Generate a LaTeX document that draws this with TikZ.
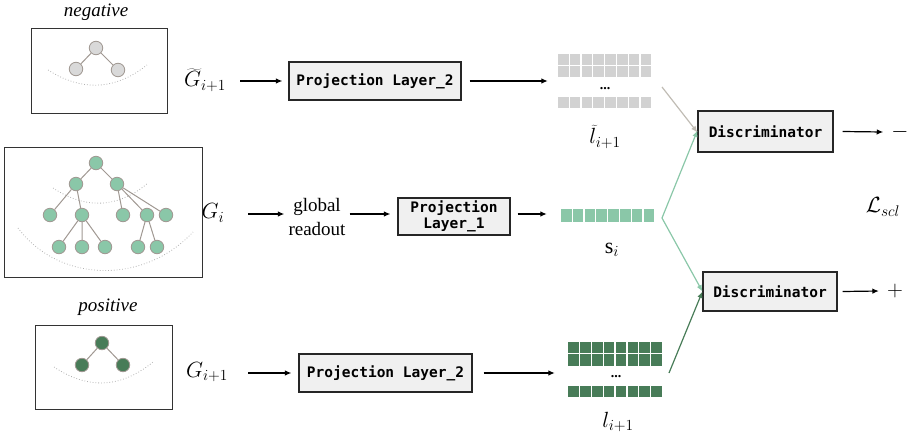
\RequirePackage{fix-cm}
\documentclass[tikz,border=0pt]{standalone}
\usepackage{fontspec}
\setmainfont{Liberation Serif}
\setmonofont{DejaVu Sans Mono}
\usetikzlibrary{arrows.meta}
\definecolor{lgreen}{RGB}{138,199,168}
\definecolor{dgreen}{RGB}{72,124,88}
\definecolor{ngray}{RGB}{217,217,217}
\definecolor{nborder}{RGB}{160,152,146}
\definecolor{cellgray}{RGB}{210,210,210}
\definecolor{boxfill}{RGB}{240,240,240}
\definecolor{lineg}{RGB}{192,188,180}
\begin{document}
\begin{tikzpicture}[x=1pt,y=-1pt,
  gbox/.style={draw=black!80,line width=1pt},
  gnode/.style={circle,draw=nborder,line width=0.8pt,minimum size=13.5pt,inner sep=0pt},
  gedge/.style={draw=nborder,line width=1pt},
  dotarc/.style={draw=black!30,dotted,line width=0.8pt},
  proj/.style={draw=black!85,fill=boxfill,line width=1.1pt,font=\ttfamily\bfseries\fontsize{14.5}{17}\selectfont,inner sep=0pt,align=center},
  arr/.style={-{Latex[length=6.5pt,width=5.5pt]},line width=1.2pt},
  lbl/.style={font=\fontsize{19}{22}\selectfont,inner sep=0pt},
  mlbl/.style={font=\fontsize{22}{26}\selectfont,inner sep=0pt},
  dots/.style={font=\bfseries\fontsize{14}{16}\selectfont,inner sep=0pt,anchor=base},
]
\useasboundingbox (0,0) rectangle (913,437);

% ---------- negative graph ----------
\node[lbl,font=\itshape\fontsize{19}{22}\selectfont] (neglbl) at (96,12) {negative};
\draw[gbox] (31,28) rectangle (167,113);
\draw[dotarc] (48,70) .. controls (81,91) and (114,91) .. (147,65);
\node[gnode,fill=ngray] (n1) at (96,48) {};
\node[gnode,fill=ngray] (n2) at (76,69) {};
\node[gnode,fill=ngray] (n3) at (118,70) {};
\draw[gedge] (n1) -- (n2) (n1) -- (n3);

% ---------- middle graph ----------
\draw[gbox] (4,147) rectangle (202,277);
\draw[dotarc] (53,188) .. controls (85,209) and (117,209) .. (148,183);
\draw[dotarc] (18,228) .. controls (60,284) and (145,284) .. (193,232);
\begin{scope}[every node/.style={gnode,fill=lgreen}]
\node (m0) at (96,163) {};
\node (m1) at (76,184) {};
\node (m2) at (117,184) {};
\node (m3) at (50,215) {};
\node (m4) at (82,215) {};
\node (m5) at (123,215) {};
\node (m6) at (147,215) {};
\node (m7) at (166,215) {};
\node (m8) at (59,247) {};
\node (m9) at (82,247) {};
\node (m10) at (105,247) {};
\node (m11) at (138,247) {};
\node (m12) at (157,247) {};
\end{scope}
\draw[gedge] (m0) -- (m1) (m0) -- (m2) (m1) -- (m3) (m1) -- (m4)
  (m2) -- (m5) (m2) -- (m6) (m2) -- (m7)
  (m4) -- (m8) (m4) -- (m9) (m4) -- (m10) (m6) -- (m11) (m6) -- (m12);

% ---------- positive graph ----------
\node[lbl,font=\itshape\fontsize{19}{22}\selectfont] (poslbl) at (108,307) {positive};
\draw[gbox] (35,325) rectangle (172,409);
\draw[dotarc] (54,367) .. controls (87,389) and (120,389) .. (153,362);
\node[gnode,fill=dgreen] (p1) at (102,343) {};
\node[gnode,fill=dgreen] (p2) at (82,365) {};
\node[gnode,fill=dgreen] (p3) at (123,365) {};
\draw[gedge] (p1) -- (p2) (p1) -- (p3);

% ---------- top row ----------
\node[mlbl] (gneg) at (205,80) {$\widetilde{G}_{i+1}$};
\node[proj,minimum width=172pt,minimum height=38pt] (ptop) at (375,81) {Projection Layer\_2};
\draw[arr] ([xshift=35pt]gneg.center |- ptop.west) -- ([xshift=-6pt]ptop.west);
\node[inner sep=0pt,minimum width=94pt,minimum height=55pt] (vneg) at (605,81.5) {};
\foreach \r in {54,66,97}{
  \foreach \k in {0,...,7}{
    \fill[cellgray] ({558+\k*11.8},\r) rectangle +(10.6,10.8);
  }
}
\node[dots] at (605,89) {...};
\draw[arr] ([xshift=8pt]ptop.east) -- ([xshift=-10pt]ptop.east -| vneg.west);
\node[mlbl] (lneg) at (605,137) {$\widetilde{l}_{i+1}$};

% ---------- middle row ----------
\node[mlbl] (gi) at (213,213) {$G_i$};
\node[lbl,align=center,font=\fontsize{19}{24}\selectfont] (glob) at (317,217) {global\\readout};
\node[proj,minimum width=112pt,minimum height=37pt,font=\ttfamily\bfseries\fontsize{14.5}{16.5}\selectfont] (pmid) at (454,216.5) {Projection\\Layer\_1};
\draw[arr] ([xshift=35pt]gi.center |- 0,214) -- ([xshift=-4pt]glob.west |- 0,214);
\draw[arr] ([xshift=4pt]glob.east |- 0,214) -- ([xshift=-7pt]pmid.west |- 0,214);
\node[inner sep=0pt,minimum width=94pt,minimum height=13pt] (vs) at (608,215.5) {};
\foreach \k in {0,...,7}{
  \fill[lgreen] ({561+\k*11.8},209) rectangle +(10.6,13);
}
\draw[arr] ([xshift=7pt]pmid.east |- 0,214) -- ([xshift=-14pt]vs.west |- 0,214);
\node[mlbl] (si) at (612,250) {$\mathrm{s}_i$};

% ---------- bottom row ----------
\node[mlbl] (gpos) at (207,372) {$G_{i+1}$};
\node[proj,minimum width=173pt,minimum height=38pt] (pbot) at (385.5,373) {Projection Layer\_2};
\draw[arr] ([xshift=41pt]gpos.center |- pbot.west) -- ([xshift=-7pt]pbot.west);
\node[inner sep=0pt,minimum width=95pt,minimum height=56pt] (vpos) at (615.5,370) {};
\foreach \r in {342,354.3,386}{
  \foreach \k in {0,...,7}{
    \fill[dgreen] ({568+\k*11.9},\r) rectangle +(10.7,11.3);
  }
}
\node[dots] at (616,377) {...};
\draw[arr] ([xshift=11pt]pbot.east) -- ([xshift=-13pt]pbot.east -| vpos.west);
\node[mlbl] (lpos) at (618,422) {$l_{i+1}$};

% ---------- discriminators ----------
\node[proj,minimum width=135pt,minimum height=41pt] (d1) at (765.5,131.5) {Discriminator};
\node[proj,minimum width=134pt,minimum height=39pt] (d2) at (770,291.5) {Discriminator};
\node[mlbl] (minus) at (900,132) {$-$};
\node[mlbl] (plus) at (895,291) {$+$};
\draw[arr] ([xshift=9pt]d1.east) -- ([xshift=-8pt]minus.west);
\draw[arr] ([xshift=5pt]d2.east) -- ([xshift=-8pt]plus.west);
\node[mlbl] (loss) at (883,207) {$\mathcal{L}_{scl}$};

\coordinate (cneg) at (662,87);
\coordinate (cs) at (662,218);
\coordinate (cpos) at (669,373);
\draw[arr,lineg] (cneg) -- ([yshift=-1pt]d1.west);
\draw[arr,lgreen] (cs) -- ([yshift=1pt]d1.west);
\draw[arr,lgreen] (cs) -- (d2.west);
\draw[arr,dgreen] (cpos) -- (d2.west);
\end{tikzpicture}
\end{document}
